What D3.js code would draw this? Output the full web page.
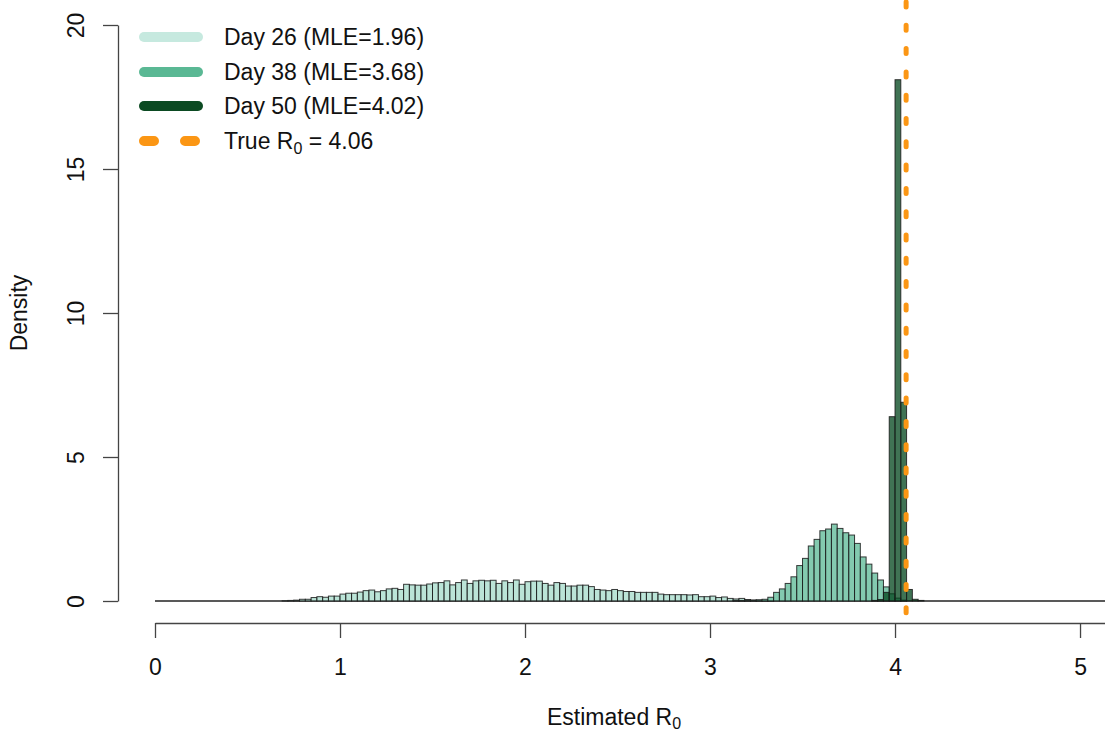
<!DOCTYPE html>
<html>
<head>
<meta charset="utf-8">
<script src="https://cdn.jsdelivr.net/npm/d3@7"></script>
<style>
  html, body { margin: 0; padding: 0; background: #fff; }
  svg { display: block; font-family: "Liberation Sans", Arial, Helvetica, sans-serif; }
</style>
</head>
<body>
<svg id="chart" width="1105" height="732"></svg>
<script>
// ---------------- data ----------------
const binWidth = 0.03125;           // histogram bin width (R0 units)
const trueR0 = 4.06;
const xTicks = [0, 1, 2, 3, 4, 5];
const yTicks = [0, 5, 10, 15, 20];
const seriesNames = ["Day 26 (MLE=1.96)", "Day 38 (MLE=3.68)", "Day 50 (MLE=4.02)"];

// Day 26 densities, first bin index 22
const day26Start = 22;
const day26 = [
  0.01, 0.02, 0.03, 0.06, 0.06, 0.12, 0.15, 0.13,
  0.17, 0.17, 0.24, 0.27, 0.27, 0.31, 0.36, 0.38, 0.32, 0.36,
  0.42, 0.44, 0.40, 0.58, 0.56, 0.55, 0.55, 0.59, 0.63, 0.64,
  0.70, 0.56, 0.64, 0.73, 0.61, 0.70, 0.72, 0.70, 0.72, 0.61,
  0.70, 0.64, 0.73, 0.58, 0.67, 0.69, 0.69, 0.61, 0.55, 0.64,
  0.61, 0.52, 0.52, 0.55, 0.55, 0.50, 0.40, 0.38, 0.36, 0.40,
  0.36, 0.33, 0.33, 0.30, 0.30, 0.30, 0.30, 0.24, 0.22, 0.22,
  0.22, 0.22, 0.21, 0.22, 0.15, 0.15, 0.17, 0.12, 0.14, 0.09,
  0.07, 0.09, 0.05, 0.03, 0.03, 0.02, 0.01
];

// Day 38 densities, first bin index 100
const day38Start = 100;
const day38 = [
  0.02, 0.02, 0.03, 0.03, 0.04, 0.06, 0.13, 0.30, 0.42, 0.61,
  0.84, 1.23, 1.48, 1.91, 2.14, 2.44, 2.50, 2.67, 2.52, 2.37,
  2.29, 2.00, 1.53, 1.28, 0.97, 0.73, 0.49, 0.25, 0.10, 0.03
];

// Day 50 densities, first bin index 124
const day50Start = 124;
const day50 = [0.02, 0.05, 0.30, 6.40, 18.10, 6.90, 0.40, 0.06, 0.02];

// ---------------- layout ----------------
const svg = d3.select("#chart");
const x = d3.scaleLinear().domain([0, 5.135]).range([155, 1105]);
const y = d3.scaleLinear().domain([0, 20]).range([601, 25]);

const fills = ["#9ed8c6", "#5ab894", "#00441B"];
const fillOpacity = [0.7, 0.75, 0.75];
const legendColors = ["#c6e9df", "#5ab894", "#0b4a22"];
const orange = "#fb9614";
const fontSize = 23;
const subSize = 16;

// zero-density baseline drawn by the empty bins
svg.append("line")
  .attr("x1", x(0)).attr("x2", x(5.135))
  .attr("y1", y(0)).attr("y2", y(0))
  .attr("stroke", "#222").attr("stroke-width", 1.3);

const series = [
  {start: day26Start, vals: day26},
  {start: day38Start, vals: day38},
  {start: day50Start, vals: day50}
];

series.forEach((s, i) => {
  const bins = s.vals.map((v, j) => ({x0: (s.start + j) * binWidth, x1: (s.start + j + 1) * binWidth, v}));
  svg.append("g").selectAll("rect").data(bins).join("rect")
    .attr("x", d => x(d.x0))
    .attr("width", d => x(d.x1) - x(d.x0))
    .attr("y", d => y(d.v))
    .attr("height", d => y(0) - y(d.v))
    .attr("fill", fills[i])
    .attr("fill-opacity", fillOpacity[i])
    .attr("stroke", "#1a1a1a")
    .attr("stroke-opacity", 0.85)
    .attr("stroke-width", 1);
});

// true R0 line
svg.append("line")
  .attr("x1", x(trueR0)).attr("x2", x(trueR0))
  .attr("y1", 2).attr("y2", 624)
  .attr("stroke", orange).attr("stroke-width", 5)
  .attr("stroke-linecap", "round")
  .attr("stroke-dasharray", "5 18.3");

// ---------------- axes ----------------
const xAxis = svg.append("g")
  .attr("transform", "translate(0,623)")
  .call(d3.axisBottom(x).tickValues(xTicks).tickSize(15).tickSizeOuter(0).tickFormat(d3.format("d")));
xAxis.select(".domain").attr("stroke", "#444").attr("stroke-width", 1.3);
xAxis.selectAll(".tick line").attr("stroke", "#444").attr("stroke-width", 1.3);
xAxis.selectAll(".tick text")
  .attr("y", 36).attr("dy", "0.71em")
  .attr("font-size", fontSize).attr("fill", "#111")
  .attr("font-family", "Liberation Sans, Arial, sans-serif");

const yAxis = svg.append("g")
  .attr("transform", "translate(118,0)")
  .call(d3.axisLeft(y).tickValues(yTicks).tickSize(15).tickSizeOuter(0).tickFormat(d3.format("d")));
yAxis.select(".domain").attr("stroke", "#444").attr("stroke-width", 1.3);
yAxis.selectAll(".tick line").attr("stroke", "#444").attr("stroke-width", 1.3);
yAxis.selectAll(".tick text").remove();
yAxis.selectAll(".tick").append("text")
  .attr("transform", "translate(-34,0) rotate(-90)")
  .attr("text-anchor", "middle")
  .attr("font-size", fontSize).attr("fill", "#111")
  .attr("font-family", "Liberation Sans, Arial, sans-serif")
  .text(d => d);

// axis titles
const xt = svg.append("text")
  .attr("x", 614).attr("y", 725)
  .attr("text-anchor", "middle")
  .attr("font-size", fontSize).attr("fill", "#111");
xt.append("tspan").text("Estimated R");
xt.append("tspan").attr("font-size", subSize).attr("dy", 4).text("0");

svg.append("text")
  .attr("transform", "translate(27,313) rotate(-90)")
  .attr("text-anchor", "middle")
  .attr("font-size", fontSize).attr("fill", "#111")
  .text("Density");

// ---------------- legend ----------------
const legY = [37, 72, 106, 141];
const leg = svg.append("g");
seriesNames.forEach((name, i) => {
  leg.append("line")
    .attr("x1", 144).attr("x2", 198).attr("y1", legY[i]).attr("y2", legY[i])
    .attr("stroke", legendColors[i]).attr("stroke-width", 10).attr("stroke-linecap", "round");
  leg.append("text")
    .attr("x", 224).attr("y", legY[i] + 8)
    .attr("font-size", fontSize).attr("fill", "#111")
    .text(name);
});
leg.append("line")
  .attr("x1", 144).attr("x2", 198).attr("y1", legY[3]).attr("y2", legY[3])
  .attr("stroke", orange).attr("stroke-width", 10).attr("stroke-linecap", "round")
  .attr("stroke-dasharray", "10 31");
const tl = leg.append("text")
  .attr("x", 224).attr("y", legY[3] + 8)
  .attr("font-size", fontSize).attr("fill", "#111");
tl.append("tspan").text("True R");
tl.append("tspan").attr("font-size", subSize).attr("dy", 5).text("0");
tl.append("tspan").attr("dy", -5).text(" = " + trueR0.toFixed(2));
</script>
</body>
</html>
